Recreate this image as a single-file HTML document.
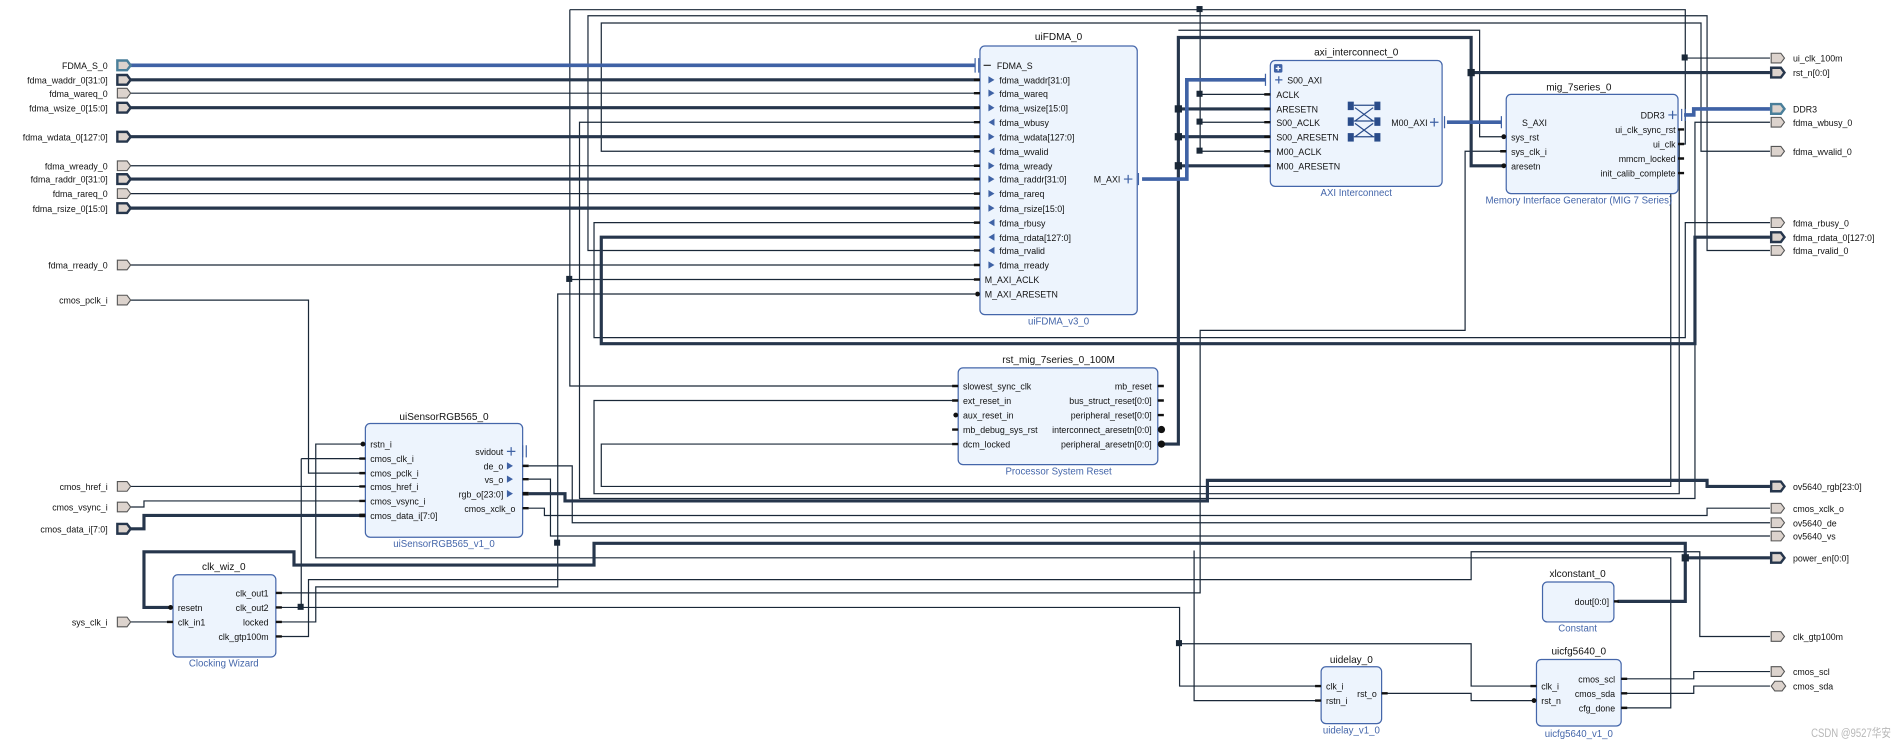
<!DOCTYPE html>
<html><head><meta charset="utf-8"><style>
html,body{margin:0;padding:0;background:#fff;width:1897px;height:749px;overflow:hidden}
svg{display:block}
text{font-family:"Liberation Sans","Noto Sans CJK SC",sans-serif;font-size:7.3px;fill:#111}
.t{font-size:8.3px}
.s{fill:#4466aa;font-size:8px}
.r{text-anchor:end}
.m{text-anchor:middle}
.w{fill:none;stroke:#1a2838;stroke-width:1}
.b{fill:none;stroke:#26364c;stroke-width:2.6}
.bl{fill:none;stroke:#3f62a5;stroke-width:3}
.box{fill:#edf4fd;stroke:#4466aa;stroke-width:1}
.p{fill:#dcd3cd;stroke:#555;stroke-width:0.9}
.pb{fill:#dcd3cd;stroke:#26364c;stroke-width:2}
.pbl{fill:#dcd3cd;stroke:#4a7f9a;stroke-width:2}
.st{stroke:#111;stroke-width:2}
.j{fill:#1a2838}
.a{fill:#3f62a5}
</style></head><body>
<svg width="1897" height="749" viewBox="0 0 1568 619" preserveAspectRatio="none">
<g class="w">
<path d="M107 77H810M107 137H810M107 160H810M107 219H810"/>
<path d="M810 101H479V412H1401V101H1463"/>
<path d="M810 125H497V19H1406V125H1463"/>
<path d="M810 207H486V13H1411V207H1463"/>
<path d="M810 184H491V279H1393V184H1463"/>
<path d="M471 8V319H792M471 231H810M471 8H1393V119H1387M1393 48H1463"/>
<path d="M992 8V125M992 78H1050M992 101H1050M992 125H1050"/>
<path d="M228 490H992V273H1211V125H1245"/>
<path d="M1245 113H1223V25H974"/>
<path d="M1387 107H1388V408H491V331H792"/>
<path d="M1387 131H1381V402H497V367H792"/>
<path d="M107 248H255V391H302"/>
<path d="M107 402H302"/>
<path d="M107 419H119V414H302"/>
<path d="M249 379H302M249 379V502"/>
<path d="M107 514H143"/>
<path d="M228 502H975V567H1092M975 532H1216V567H1270"/>
<path d="M228 514H261V485H461V243H806"/>
<path d="M228 526H255V479H1216V456H1405V526H1463"/>
<path d="M1340 585H1381V461H261V367H302"/>
<path d="M1092 579H987V455"/>
<path d="M1142 573H1216V579H1270"/>
<path d="M1340 561H1400V555H1463M1340 573H1400V567H1463"/>
<path d="M437 385H473V432H1463"/>
<path d="M437 396H455V443H1463"/>
<path d="M437 420H450V426H1411V420H1463"/>
</g>
<g class="b">
<path d="M107 66H810M107 89H810M107 113H810M107 148H810M107 172H810"/>
<path d="M810 196H497V284H1401V196H1463"/>
<path d="M962 367H974V31H1216V137H1245M974 90H1050M974 113H1050M974 137H1050M1216 60H1463"/>
<path d="M107 437H119V426H302"/>
<path d="M437 408H467V414H998V397H1411V402H1463"/>
<path d="M143 502H119V456H243V467H491V449H1393V497H1337M1393 461H1463"/>
</g>
<g class="bl">
<path d="M107 54H806"/>
<path d="M944 148H981V66H1046"/>
<path d="M1196 101H1241"/>
<path d="M1392 95H1400V90H1463"/>
</g>
<g class="j">
<rect x="989" y="5" width="5" height="5"/><rect x="989" y="75" width="5" height="5"/><rect x="989" y="98" width="5" height="5"/><rect x="989" y="122" width="5" height="5"/>
<rect x="1390" y="45" width="5" height="5"/><rect x="468" y="228" width="5" height="5"/>
<rect x="971" y="87" width="6" height="6"/><rect x="971" y="110" width="6" height="6"/><rect x="971" y="134" width="6" height="6"/><rect x="1213" y="57" width="6" height="6"/>
<rect x="246" y="499" width="5" height="5"/><rect x="458" y="446" width="5" height="5"/><rect x="1390" y="458" width="6" height="6"/><rect x="972" y="529" width="5" height="5"/>
</g>
<g>
<path class="pbl" d="M97 50h8l3 4l-3 4h-8z"/>
<path class="pb" d="M97 62h8l3 4l-3 4h-8z"/>
<path class="p" d="M97 73h8l3 4l-3 4h-8z"/>
<path class="pb" d="M97 85h8l3 4l-3 4h-8z"/>
<path class="pb" d="M97 109h8l3 4l-3 4h-8z"/>
<path class="p" d="M97 133h8l3 4l-3 4h-8z"/>
<path class="pb" d="M97 144h8l3 4l-3 4h-8z"/>
<path class="p" d="M97 156h8l3 4l-3 4h-8z"/>
<path class="pb" d="M97 168h8l3 4l-3 4h-8z"/>
<path class="p" d="M97 215h8l3 4l-3 4h-8z"/>
<path class="p" d="M97 244h8l3 4l-3 4h-8z"/>
<path class="p" d="M97 398h8l3 4l-3 4h-8z"/>
<path class="p" d="M97 415h8l3 4l-3 4h-8z"/>
<path class="pb" d="M97 433h8l3 4l-3 4h-8z"/>
<path class="p" d="M97 510h8l3 4l-3 4h-8z"/>
</g>
<g class="r">
<text x="89" y="57">FDMA_S_0</text><text x="89" y="69">fdma_waddr_0[31:0]</text><text x="89" y="80">fdma_wareq_0</text><text x="89" y="92">fdma_wsize_0[15:0]</text><text x="89" y="116">fdma_wdata_0[127:0]</text><text x="89" y="140">fdma_wready_0</text><text x="89" y="151">fdma_raddr_0[31:0]</text><text x="89" y="163">fdma_rareq_0</text><text x="89" y="175">fdma_rsize_0[15:0]</text><text x="89" y="222">fdma_rready_0</text><text x="89" y="251">cmos_pclk_i</text><text x="89" y="405">cmos_href_i</text><text x="89" y="422">cmos_vsync_i</text><text x="89" y="440">cmos_data_i[7:0]</text><text x="89" y="517">sys_clk_i</text>
</g>
<g>
<path class="p" d="M1464 44h8l3 4l-3 4h-8z"/>
<path class="pb" d="M1464 56h8l3 4l-3 4h-8z"/>
<path class="pbl" d="M1464 86h8l3 4l-3 4h-8z"/>
<path class="p" d="M1464 97h8l3 4l-3 4h-8z"/>
<path class="p" d="M1464 121h8l3 4l-3 4h-8z"/>
<path class="p" d="M1464 180h8l3 4l-3 4h-8z"/>
<path class="pb" d="M1464 192h8l3 4l-3 4h-8z"/>
<path class="p" d="M1464 203h8l3 4l-3 4h-8z"/>
<path class="pb" d="M1464 398h8l3 4l-3 4h-8z"/>
<path class="p" d="M1464 416h8l3 4l-3 4h-8z"/>
<path class="p" d="M1464 428h8l3 4l-3 4h-8z"/>
<path class="p" d="M1464 439h8l3 4l-3 4h-8z"/>
<path class="pb" d="M1464 457h8l3 4l-3 4h-8z"/>
<path class="p" d="M1464 522h8l3 4l-3 4h-8z"/>
<path class="p" d="M1464 551h8l3 4l-3 4h-8z"/>
<path class="p" d="M1464 567l3-4h6l3 4l-3 4h-6z"/>
</g>
<g>
<text x="1482" y="51">ui_clk_100m</text><text x="1482" y="63">rst_n[0:0]</text><text x="1482" y="93">DDR3</text><text x="1482" y="104">fdma_wbusy_0</text><text x="1482" y="128">fdma_wvalid_0</text><text x="1482" y="187">fdma_rbusy_0</text><text x="1482" y="199">fdma_rdata_0[127:0]</text><text x="1482" y="210">fdma_rvalid_0</text><text x="1482" y="405">ov5640_rgb[23:0]</text><text x="1482" y="423">cmos_xclk_o</text><text x="1482" y="435">ov5640_de</text><text x="1482" y="446">ov5640_vs</text><text x="1482" y="464">power_en[0:0]</text><text x="1482" y="529">clk_gtp100m</text><text x="1482" y="558">cmos_scl</text><text x="1482" y="570">cmos_sda</text>
</g>
<rect class="box" x="810" y="38" width="130" height="222" rx="4"/>
<text class="t m" x="875" y="33">uiFDMA_0</text><text class="s m" x="875" y="268">uiFDMA_v3_0</text>
<path stroke="#3f62a5" stroke-width="1" d="M806 48V60M809 48V60"/>
<g class="st"><path d="M805 66h5M805 77h5M805 89h5M805 101h5M805 113h5M805 125h5M805 137h5M805 148h5M805 160h5M805 172h5M805 184h5M805 196h5M805 207h5M805 219h5M805 231h5"/></g>
<circle cx="808" cy="243" r="2" fill="#111"/>
<g class="a"><path d="M817 63l5 3l-5 3zM817 74l5 3l-5 3zM817 86l5 3l-5 3zM822 98l-5 3l5 3zM817 110l5 3l-5 3zM822 122l-5 3l5 3zM817 134l5 3l-5 3zM817 145l5 3l-5 3zM817 157l5 3l-5 3zM817 169l5 3l-5 3zM822 181l-5 3l5 3zM822 193l-5 3l5 3zM822 204l-5 3l5 3zM817 216l5 3l-5 3z"/></g>
<path stroke="#333" d="M813 54h6"/>
<text x="824" y="57">FDMA_S</text><text x="826" y="69">fdma_waddr[31:0]</text><text x="826" y="80">fdma_wareq</text><text x="826" y="92">fdma_wsize[15:0]</text><text x="826" y="104">fdma_wbusy</text><text x="826" y="116">fdma_wdata[127:0]</text><text x="826" y="128">fdma_wvalid</text><text x="826" y="140">fdma_wready</text><text x="826" y="151">fdma_raddr[31:0]</text><text x="826" y="163">fdma_rareq</text><text x="826" y="175">fdma_rsize[15:0]</text><text x="826" y="187">fdma_rbusy</text><text x="826" y="199">fdma_rdata[127:0]</text><text x="826" y="210">fdma_rvalid</text><text x="826" y="222">fdma_rready</text><text x="814" y="234">M_AXI_ACLK</text><text x="814" y="246">M_AXI_ARESETN</text>
<text class="r" x="926" y="151">M_AXI</text><path stroke="#3f62a5" d="M929 148h7M932.5 144.5v7M941 143v10" />
<rect class="box" x="1050" y="50" width="142" height="104" rx="4"/>
<text class="t m" x="1121" y="46">axi_interconnect_0</text><text class="s m" x="1121" y="162">AXI Interconnect</text>
<rect x="1053" y="53" width="7" height="7" rx="1" fill="#3f62a5"/><path stroke="#fff" d="M1054.5 56.5h4M1056.5 54.5v4"/>
<g class="st"><path d="M1045 78h5M1045 90h5M1045 101h5M1045 113h5M1045 125h5M1045 137h5"/></g>
<path stroke="#3f62a5" d="M1046 61v10M1054 66h6M1057 63v6M1182 101h7M1185.5 97.5v7M1194 96v10M1241 96v10M1248 101h6M1251 98v6"/>
<text x="1064" y="69">S00_AXI</text><text x="1055" y="81">ACLK</text><text x="1055" y="93">ARESETN</text><text x="1055" y="104">S00_ACLK</text><text x="1055" y="116">S00_ARESETN</text><text x="1055" y="128">M00_ACLK</text><text x="1055" y="140">M00_ARESETN</text>
<text class="r" x="1180" y="104">M00_AXI</text>
<g fill="#2a4c8a"><rect x="1114" y="84" width="5" height="7"/><rect x="1136" y="84" width="5" height="7"/><rect x="1114" y="97" width="5" height="7"/><rect x="1136" y="97" width="5" height="7"/><rect x="1114" y="110" width="5" height="7"/><rect x="1136" y="110" width="5" height="7"/></g>
<path stroke="#2a4c8a" fill="none" d="M1119 87h17M1120 89l15 11M1135 89l-15 11M1119 100h17M1120 102l15 11M1135 102l-15 11M1119 113h17"/>
<rect class="box" x="1245" y="78" width="142" height="82" rx="4"/>
<text class="t m" x="1305" y="75">mig_7series_0</text><text class="s m" x="1305" y="168">Memory Interface Generator (MIG 7 Series)</text>
<g class="st"><path d="M1240 125h5M1387 107h5M1387 119h5M1387 131h5M1387 143h5"/></g>
<circle cx="1243" cy="113" r="2" fill="#111"/><circle cx="1243" cy="137" r="2" fill="#111"/>
<text x="1258" y="104">S_AXI</text><text x="1249" y="116">sys_rst</text><text x="1249" y="128">sys_clk_i</text><text x="1249" y="140">aresetn</text>
<text class="r" x="1376" y="98">DDR3</text><path stroke="#3f62a5" d="M1379 95h7M1382.5 91.5v7M1390 90v10M1393 90v10"/>
<text class="r" x="1385" y="110">ui_clk_sync_rst</text><text class="r" x="1385" y="122">ui_clk</text><text class="r" x="1385" y="134">mmcm_locked</text><text class="r" x="1385" y="146">init_calib_complete</text>
<rect class="box" x="792" y="304" width="165" height="80" rx="4"/>
<text class="t m" x="875" y="300">rst_mig_7series_0_100M</text><text class="s m" x="875" y="392">Processor System Reset</text>
<g class="st"><path d="M787 319h5M787 331h5M787 355h5M787 367h5M957 319h5M957 331h5M957 343h5"/></g>
<circle cx="790" cy="343" r="2" fill="#111"/><circle cx="960" cy="355" r="3" fill="#111"/><circle cx="960" cy="367" r="3" fill="#111"/>
<text x="796" y="322">slowest_sync_clk</text><text x="796" y="334">ext_reset_in</text><text x="796" y="346">aux_reset_in</text><text x="796" y="358">mb_debug_sys_rst</text><text x="796" y="370">dcm_locked</text>
<g class="r"><text x="952" y="322">mb_reset</text><text x="952" y="334">bus_struct_reset[0:0]</text><text x="952" y="346">peripheral_reset[0:0]</text><text x="952" y="358">interconnect_aresetn[0:0]</text><text x="952" y="370">peripheral_aresetn[0:0]</text></g>
<rect class="box" x="302" y="350" width="130" height="94" rx="4"/>
<text class="t m" x="367" y="347">uiSensorRGB565_0</text><text class="s m" x="367" y="452">uiSensorRGB565_v1_0</text>
<g class="st"><path d="M297 379h5M297 391h5M297 402h5M297 414h5M432 385h5M432 396h5M432 420h5"/><path d="M297 426h5M432 408h5" stroke-width="3"/></g>
<circle cx="300" cy="367" r="2" fill="#111"/>
<text x="306" y="370">rstn_i</text><text x="306" y="382">cmos_clk_i</text><text x="306" y="394">cmos_pclk_i</text><text x="306" y="405">cmos_href_i</text><text x="306" y="417">cmos_vsync_i</text><text x="306" y="429">cmos_data_i[7:0]</text>
<g class="r"><text x="416" y="376">svidout</text><text x="416" y="388">de_o</text><text x="416" y="399">vs_o</text><text x="416" y="411">rgb_o[23:0]</text><text x="426" y="423">cmos_xclk_o</text></g>
<path stroke="#3f62a5" d="M419 373h7M422.5 369.5v7M432 368v10M435 368v10"/>
<g class="a"><path d="M419 382l5 3l-5 3zM419 393l5 3l-5 3zM419 405l5 3l-5 3z"/></g>
<rect class="box" x="143" y="475" width="85" height="68" rx="4"/>
<text class="t m" x="185" y="471">clk_wiz_0</text><text class="s m" x="185" y="551">Clocking Wizard</text>
<g class="st"><path d="M138 514h5M228 490h5M228 502h5M228 514h5M228 526h5"/></g>
<circle cx="141" cy="502" r="2" fill="#111"/>
<text x="147" y="505">resetn</text><text x="147" y="517">clk_in1</text>
<g class="r"><text x="222" y="493">clk_out1</text><text x="222" y="505">clk_out2</text><text x="222" y="517">locked</text><text x="222" y="529">clk_gtp100m</text></g>
<rect class="box" x="1275" y="481" width="59" height="33" rx="4"/>
<text class="t m" x="1304" y="477">xlconstant_0</text><text class="s m" x="1304" y="522">Constant</text>
<path class="st" d="M1334 497h4" stroke-width="3"/><text class="r" x="1330" y="500">dout[0:0]</text>
<rect class="box" x="1092" y="551" width="50" height="47" rx="4"/>
<text class="t m" x="1117" y="548">uidelay_0</text><text class="s m" x="1117" y="606">uidelay_v1_0</text>
<g class="st"><path d="M1087 567h5M1087 579h5M1142 573h5"/></g>
<text x="1096" y="570">clk_i</text><text x="1096" y="582">rstn_i</text><text class="r" x="1138" y="576">rst_o</text>
<rect class="box" x="1270" y="545" width="70" height="55" rx="4"/>
<text class="t m" x="1305" y="541">uicfg5640_0</text><text class="s m" x="1305" y="609">uicfg5640_v1_0</text>
<g class="st"><path d="M1265 567h5M1340 561h5M1340 573h5M1340 585h5"/></g>
<circle cx="1268" cy="579" r="2" fill="#111"/>
<text x="1274" y="570">clk_i</text><text x="1274" y="582">rst_n</text>
<g class="r"><text x="1335" y="564">cmos_scl</text><text x="1335" y="576">cmos_sda</text><text x="1335" y="588">cfg_done</text></g>
<text x="1497" y="609" textLength="66" lengthAdjust="spacingAndGlyphs" style="font-size:10px;fill:#b8b8b8">CSDN @9527华安</text>
</svg>
</body></html>
